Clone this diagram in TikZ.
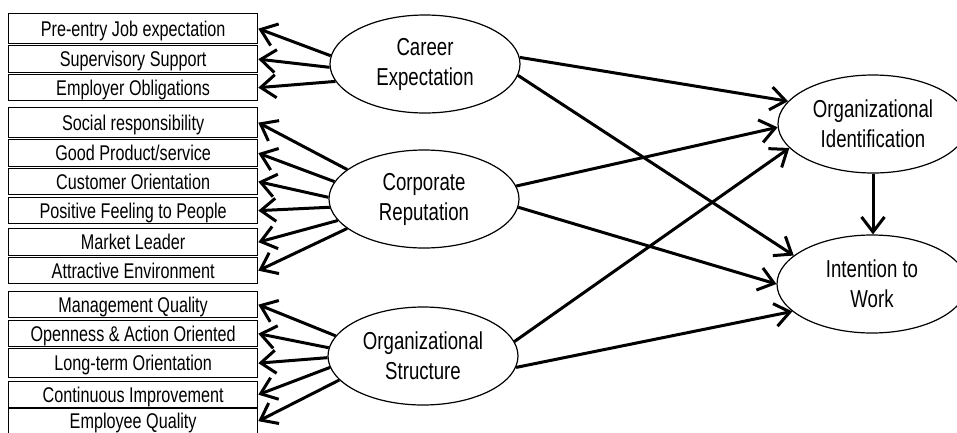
\documentclass[tikz,border=0pt]{standalone}
\usepackage{fontspec}
\setmainfont{Liberation Sans}[FakeStretch=0.76]
\usetikzlibrary{arrows.meta,shapes.geometric}
\begin{document}
\begin{tikzpicture}[x=1pt,y=-1pt,
  itembox/.style={draw=black, line width=1.3pt, anchor=north west, inner sep=0pt,
    minimum width=249pt, text height=15.2pt, text depth=0pt,
    font=\fontsize{21.3}{25}\selectfont},
  construct/.style={draw=black, line width=1.2pt, ellipse, inner sep=0pt,
    minimum width=190pt, minimum height=98pt, align=center,
    font=\fontsize{24.5}{30}\selectfont},
  link/.style={line width=3pt, -{Straight Barb[length=15pt,width=23pt]}}]
\useasboundingbox (0,0) rectangle (957,432);

% indicator boxes
\node[itembox, minimum height=30pt] (pre)  at (8,13)  {Pre-entry Job expectation};
\node[itembox, minimum height=27pt] (sup)  at (8,45)  {Supervisory Support};
\node[itembox, minimum height=26pt] (emp)  at (8,74)  {Employer Obligations};
\node[itembox, minimum height=30pt] (soc)  at (8,107) {Social responsibility};
\node[itembox, minimum height=27pt] (good) at (8,139) {Good Product/service};
\node[itembox, minimum height=26pt] (cust) at (8,168) {Customer Orientation};
\node[itembox, minimum height=26pt] (pos)  at (8,197) {Positive Feeling to People};
\node[itembox, minimum height=27pt] (mkt)  at (8,228) {Market Leader};
\node[itembox, minimum height=26pt] (attr) at (8,257) {Attractive Environment};
\node[itembox, minimum height=26pt] (mgmt) at (8,291) {Management Quality};
\node[itembox, minimum height=26pt] (open) at (8,320) {Openness \& Action Oriented};
\node[itembox, minimum height=29pt] (long) at (8,348) {Long-term Orientation};
\node[itembox, minimum height=26pt] (cont) at (8,381) {Continuous Improvement};
\node[itembox, minimum height=25pt] (empq) at (8,408) {Employee Quality};

% latent constructs
\node[construct] (ce)  at (425,64)  {Career\\Expectation};
\node[construct] (cr)  at (424,199) {Corporate\\Reputation};
\node[construct] (os)  at (423,356) {Organizational\\Structure};
\node[construct] (oi)  at (873,124) {Organizational\\Identification};
\node[construct] (itw) at (872,284) {Intention to\\Work};

% measurement paths
\draw[link] (ce.175) -- (pre.east);
\draw[link] (ce.182) -- (sup.east);
\draw[link] (ce.191) -- (emp.east);

\draw[link] (cr.159) -- (soc.east);
\draw[link] (cr.169) -- (good.east);
\draw[link] (cr.179) -- (cust.east);
\draw[link] (cr.185) -- (pos.east);
\draw[link] (cr.194) -- (mkt.east);
\draw[link] (cr.201) -- (attr.east);

\draw[link] (os.167) -- (mgmt.east);
\draw[link] (os.175) -- (open.east);
\draw[link] (os.181) -- (long.east);
\draw[link] (os.187) -- (cont.east);
\draw[link] (os.196) -- (empq.east);

% structural paths
\draw[link] (ce.4)  -- (oi.165);
\draw[link] (ce.-7) -- (itw.160);
\draw[link] (cr.8)  -- (oi.182);
\draw[link] (cr.-5) -- (itw.180);
\draw[link] (os.9)  -- (oi.196);
\draw[link] (os.-7) -- (itw.199);
\draw[link] (oi.south) -- (oi.south |- itw.north);
\end{tikzpicture}
\end{document}
